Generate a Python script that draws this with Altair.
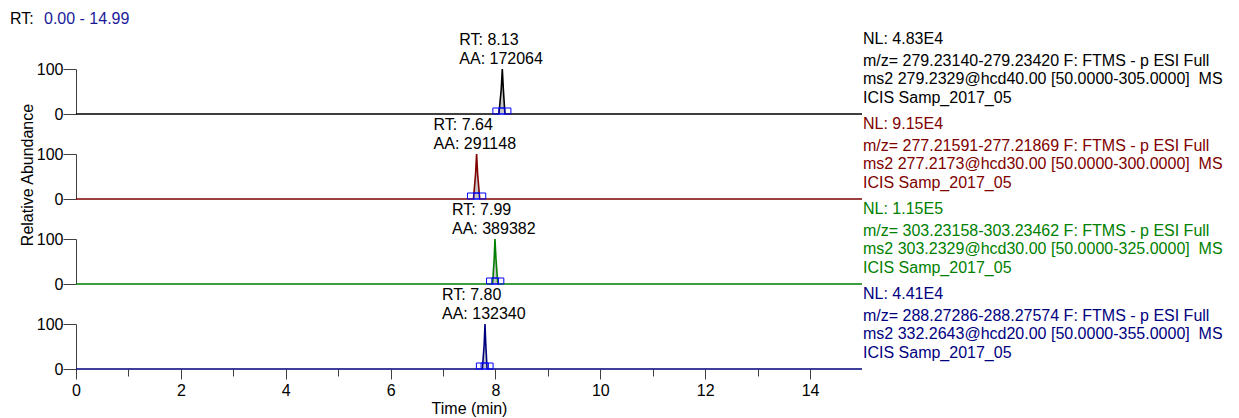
import altair as alt
import pandas as pd

# ---------------- data ----------------
X_MAX = 14.99
colors = ["#000000", "#7f0000", "#007f00", "#00007f"]

# chromatogram traces (time in min, relative abundance %)
trace_t = [
    [0.00, 8.065, 8.110, 8.130, 8.150, 8.180, 14.99],
    [0.00, 7.580, 7.620, 7.640, 7.660, 7.700, 14.99],
    [0.00, 7.944, 7.975, 7.990, 8.010, 8.045, 14.99],
    [0.00, 7.750, 7.785, 7.800, 7.815, 7.840, 14.99],
]
trace_i = [
    [0, 0, 55, 100, 55, 0, 0],
    [0, 0, 55, 100, 55, 0, 0],
    [0, 0, 55, 100, 55, 0, 0],
    [0, 0, 55, 100, 55, 0, 0],
]
# peak integration boundaries (start / end markers)
peak_start = [8.065, 7.580, 7.944, 7.750]
peak_end = [8.180, 7.700, 8.045, 7.840]
# peak annotations
peak_rt = [8.13, 7.64, 7.99, 7.80]
rt_labels = ["RT: 8.13", "RT: 7.64", "RT: 7.99", "RT: 7.80"]
aa_labels = ["AA: 172064", "AA: 291148", "AA: 389382", "AA: 132340"]
# right-hand descriptions
nl_labels = ["NL: 4.83E4", "NL: 9.15E4", "NL: 1.15E5", "NL: 4.41E4"]
filter_line1 = [
    "m/z= 279.23140-279.23420 F: FTMS - p ESI Full",
    "m/z= 277.21591-277.21869 F: FTMS - p ESI Full",
    "m/z= 303.23158-303.23462 F: FTMS - p ESI Full",
    "m/z= 288.27286-288.27574 F: FTMS - p ESI Full",
]
filter_line2 = [
    "ms2 279.2329@hcd40.00 [50.0000-305.0000]\u00a0 MS",
    "ms2 277.2173@hcd30.00 [50.0000-300.0000]\u00a0 MS",
    "ms2 303.2329@hcd30.00 [50.0000-325.0000]\u00a0 MS",
    "ms2 332.2643@hcd20.00 [50.0000-355.0000]\u00a0 MS",
]
filter_line3 = ["ICIS Samp_2017_05"] * 4

x_tick_values = [0, 0.5, 1, 1.5, 2, 2.5, 3, 3.5, 4, 4.5, 5, 5.5, 6, 6.5, 7,
                 7.5, 8, 8.5, 9, 9.5, 10, 10.5, 11, 11.5, 12, 12.5, 13, 13.5,
                 14, 14.5]
y_tick_values = [0, 20, 40, 60, 80, 100]

FONT = "Liberation Sans"
FS = 16
W, H = 786, 45

xscale = alt.Scale(domain=[0, X_MAX], nice=False, zero=False)
yscale = alt.Scale(domain=[0, 100], nice=False)

yaxis = alt.Axis(
    values=y_tick_values,
    labelExpr="datum.value % 100 == 0 ? datum.label : ''",
    tickSize={"condition": {"test": "datum.value % 100 == 0", "value": 13}, "value": 5},
    labelPadding=0,
    title=None,
    grid=False,
    labelFontSize=FS,
    labelFont=FONT,
    labelColor="#000000",
    tickColor="#404040",
    domainColor="#404040",
    labelBaseline="middle",
)


def make_xaxis():
    return alt.Axis(
        values=x_tick_values,
        labelExpr="datum.value % 2 == 0 ? datum.label : ''",
        tickSize={"condition": {"test": "datum.value % 2 == 0", "value": 10}, "value": 7},
        title="Time (min)",
        titleFont=FONT,
        titleFontSize=FS,
        titleFontWeight="normal",
        titleColor="#000000",
        titlePadding=2,
        labelFont=FONT,
        labelFontSize=FS,
        labelColor="#000000",
        labelPadding=3,
        labelFlush=False,
        labelOverlap=False,
        grid=False,
        domain=False,
        tickColor="#404040",
    )


box_shape = "M-1,-0.5L1,-0.5L1,0.5L-1,0.5Z"

panels = []
for k in range(4):
    c = colors[k]
    df = pd.DataFrame({"t": trace_t[k], "i": trace_i[k]})
    xaxis = make_xaxis() if k == 3 else None
    x_enc = alt.X("t:Q", scale=xscale, axis=xaxis)
    y_enc = alt.Y("i:Q", scale=yscale, axis=yaxis)
    base = alt.Chart(df)
    area = base.mark_area(color="#c8c8c8", opacity=1).encode(x=x_enc, y=y_enc)
    line = base.mark_line(color=c, strokeWidth=1.6).encode(x=x_enc, y=y_enc)

    bdf = pd.DataFrame({"t": [peak_start[k], peak_end[k]], "i": [0, 0]})
    boxes = alt.Chart(bdf).mark_point(
        shape=box_shape, size=144, filled=False, color="#0000ff",
        strokeWidth=1, opacity=1, yOffset=-3
    ).encode(x=alt.X("t:Q", scale=xscale), y=alt.Y("i:Q", scale=yscale))

    adf = pd.DataFrame({"t": [peak_rt[k]], "rt": [rt_labels[k]], "aa": [aa_labels[k]]})
    rt_txt = alt.Chart(adf).mark_text(
        align="left", baseline="middle", dx=-43, fontSize=FS, font=FONT, color="#000000"
    ).encode(x=alt.X("t:Q", scale=xscale), y=alt.value(-29), text="rt:N")
    aa_txt = alt.Chart(adf).mark_text(
        align="left", baseline="middle", dx=-43, fontSize=FS, font=FONT, color="#000000"
    ).encode(x=alt.X("t:Q", scale=xscale), y=alt.value(-10), text="aa:N")

    rdf = pd.DataFrame({
        "nl": [nl_labels[k]],
        "f": [[filter_line1[k], filter_line2[k], filter_line3[k]]],
    })
    nl_txt = alt.Chart(rdf).mark_text(
        align="left", baseline="middle", fontSize=FS, font=FONT, color=c
    ).encode(x=alt.value(W + 1), y=alt.value(-30), text="nl:N")
    f_txt = alt.Chart(rdf).mark_text(
        align="left", baseline="middle", fontSize=FS, font=FONT, color=c, lineHeight=18.5
    ).encode(x=alt.value(W + 1), y=alt.value(-8.5), text="f")

    layers = [area, line, boxes, rt_txt, aa_txt, nl_txt, f_txt]

    if k == 0:
        hdf = pd.DataFrame({"a": ["RT:"], "b": ["0.00 - 14.99"],
                            "ya": ["Relative Abundance"]})
        h1 = alt.Chart(hdf).mark_text(
            align="left", baseline="middle", fontSize=FS, font=FONT, color="#000000"
        ).encode(x=alt.value(-66), y=alt.value(-50), text="a:N")
        h2 = alt.Chart(hdf).mark_text(
            align="left", baseline="middle", fontSize=FS, font=FONT, color="#1a1a99"
        ).encode(x=alt.value(-32), y=alt.value(-50), text="b:N")
        ytitle = alt.Chart(hdf).mark_text(
            align="center", baseline="middle", fontSize=FS, font=FONT,
            color="#000000", angle=270
        ).encode(x=alt.value(-48), y=alt.value(106), text="ya:N")
        layers += [h1, h2, ytitle]

    panels.append(alt.layer(*layers).properties(width=W, height=H))

chart = alt.vconcat(*panels, spacing=40, bounds="flush").properties(
    padding={"left": 2, "top": 3, "right": 5, "bottom": 5}
).configure_view(stroke=None)

chart.save("out.html", embed_options={"renderer": "svg", "actions": False})
